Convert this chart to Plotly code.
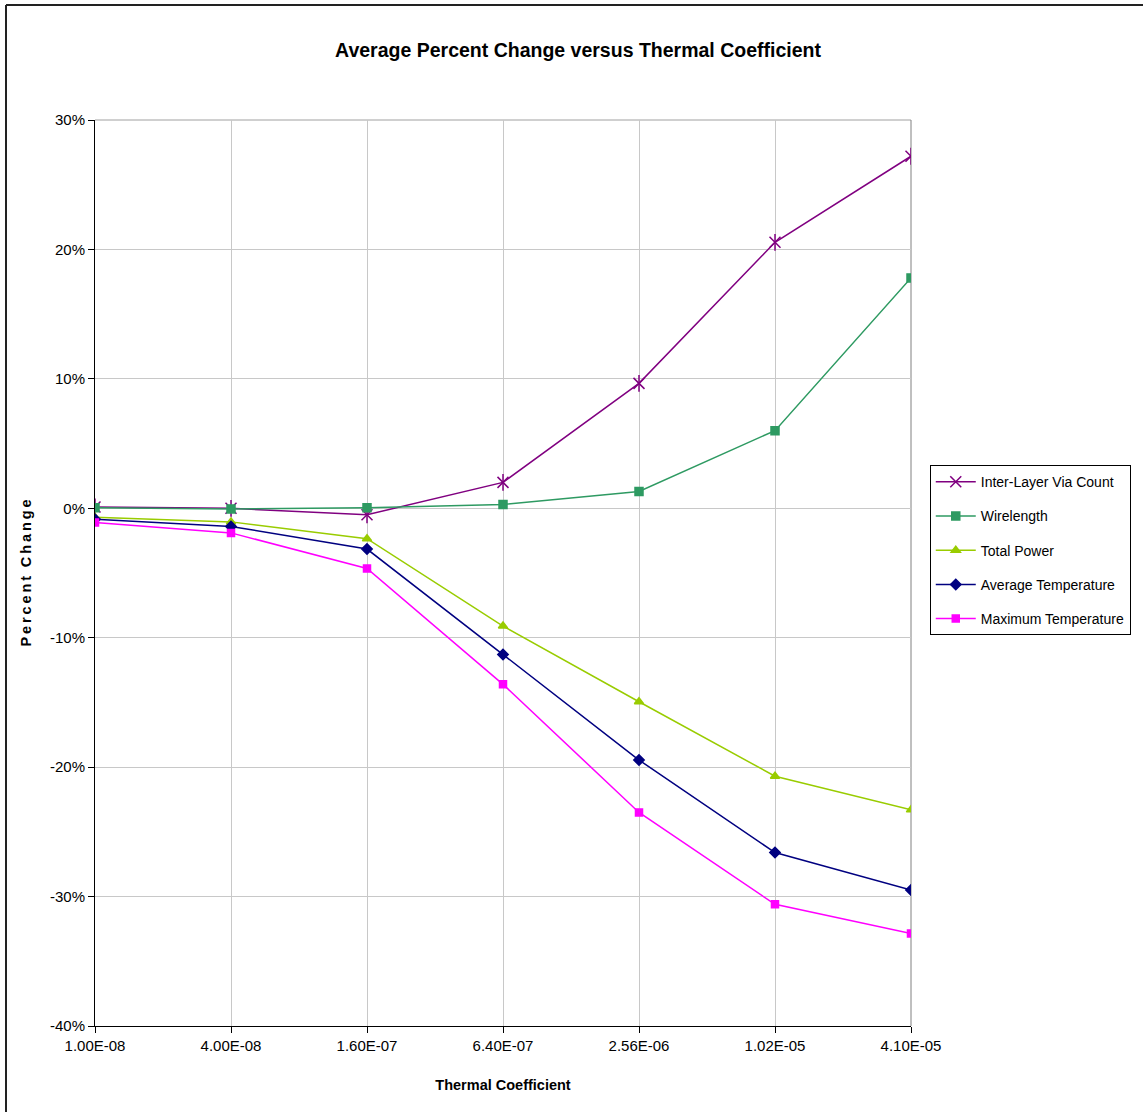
import plotly.graph_objects as go

# Thermal coefficient settings (category axis)
coefficients = ["1.00E-08", "4.00E-08", "1.60E-07", "6.40E-07", "2.56E-06", "1.02E-05", "4.10E-05"]

# Average percent change per metric
via_count = [0.1, 0.0, -0.5, 2.0, 9.65, 20.55, 27.2]
wirelength = [0.05, -0.05, 0.05, 0.3, 1.3, 6.0, 17.8]
total_power = [-0.7, -1.05, -2.35, -9.1, -14.95, -20.7, -23.3]
avg_temperature = [-0.85, -1.4, -3.15, -11.3, -19.45, -26.6, -29.5]
max_temperature = [-1.1, -1.9, -4.65, -13.6, -23.5, -30.6, -32.85]

y_ticks = [30, 20, 10, 0, -10, -20, -30, -40]
y_tick_labels = ["30%", "20%", "10%", "0%", "-10%", "-20%", "-30%", "-40%"]

FONT = "Liberation Sans, Arial, sans-serif"

fig = go.Figure()

series = [
    ("Inter-Layer Via Count", via_count, "#800080", "x-thin-open", 11),
    ("Wirelength", wirelength, "#2E9A62", "square", 8),
    ("Total Power", total_power, "#99CC00", "triangle-up", 8),
    ("Average Temperature", avg_temperature, "#000080", "diamond", 8),
    ("Maximum Temperature", max_temperature, "#FF00FF", "square", 7),
]

for i, (name, vals, color, symbol, size) in enumerate(series):
    fig.add_trace(go.Scatter(
        x=coefficients, y=vals, name=name, mode="lines+markers",
        legendgroup=f"g{i}",
        line=dict(color=color, width=1.5),
        marker=dict(symbol=symbol, size=size, color=color,
                    line=dict(color=color, width=1.5)),
    ))
    if i == 0:
        # vertical stroke completing the star marker
        fig.add_trace(go.Scatter(
            x=coefficients, y=vals, mode="markers", showlegend=False,
            legendgroup=f"g{i}", hoverinfo="skip",
            marker=dict(symbol="line-ns-open", size=12, color=color,
                        line=dict(color=color, width=1.5)),
        ))

fig.update_layout(
    width=1143, height=1112,
    margin=dict(l=95, r=232, t=120, b=86),
    paper_bgcolor="white", plot_bgcolor="white",
    font=dict(family=FONT, size=15, color="black"),
    title=dict(text="<b>Average Percent Change versus Thermal Coefficient</b>",
               x=578 / 1143, xanchor="center", y=1 - 50 / 1112, yanchor="middle",
               font=dict(size=19.5, family=FONT)),
    legend=dict(x=1.023, xanchor="left", y=0.619, yanchor="top",
                bordercolor="black", borderwidth=1, bgcolor="white",
                font=dict(size=14, family=FONT), tracegroupgap=13,
                itemwidth=40),
    showlegend=True,
)

fig.update_xaxes(
    type="category", range=[0, 6], automargin=False,
    showgrid=True, gridcolor="#C8C8C8", gridwidth=1,
    showline=True, linecolor="black", linewidth=1,
    ticks="outside", ticklen=6, tickcolor="black",
    tickfont=dict(size=15),
    title=dict(text="<b>Thermal Coefficient</b>", font=dict(size=14.5), standoff=26),
    zeroline=False,
)
fig.update_yaxes(
    range=[-40, 30], tickmode="array", tickvals=y_ticks, ticktext=y_tick_labels,
    automargin=False,
    showgrid=True, gridcolor="#C8C8C8", gridwidth=1,
    showline=True, linecolor="black", linewidth=1,
    ticks="outside", ticklen=6, tickcolor="black",
    tickfont=dict(size=15),
    title=dict(text="<b>" + "\u2009".join("Percent") + "\u2009\u2009\u2009" + "\u2009".join("Change") + "</b>",
               font=dict(size=14.5), standoff=14),
    zeroline=False,
)

# gray frame on the top and right of the plotting area
fig.add_shape(type="line", xref="paper", yref="paper", x0=0, x1=1, y0=1, y1=1,
              line=dict(color="#A0A0A0", width=1), layer="below")
fig.add_shape(type="line", xref="paper", yref="paper", x0=1, x1=1, y0=0, y1=1,
              line=dict(color="#808080", width=1), layer="below")

# outer chart border (left and top edges)
fig.add_shape(type="line", xref="paper", yref="paper",
              x0=(6 - 95) / 816, x1=(6 - 95) / 816, y0=(1026 - 1115) / 906, y1=(1026 - 5) / 906,
              line=dict(color="#222222", width=2))
fig.add_shape(type="line", xref="paper", yref="paper",
              x0=(6 - 95) / 816, x1=(1150 - 95) / 816, y0=(1026 - 5) / 906, y1=(1026 - 5) / 906,
              line=dict(color="#222222", width=2))

fig.write_html("out.html")
